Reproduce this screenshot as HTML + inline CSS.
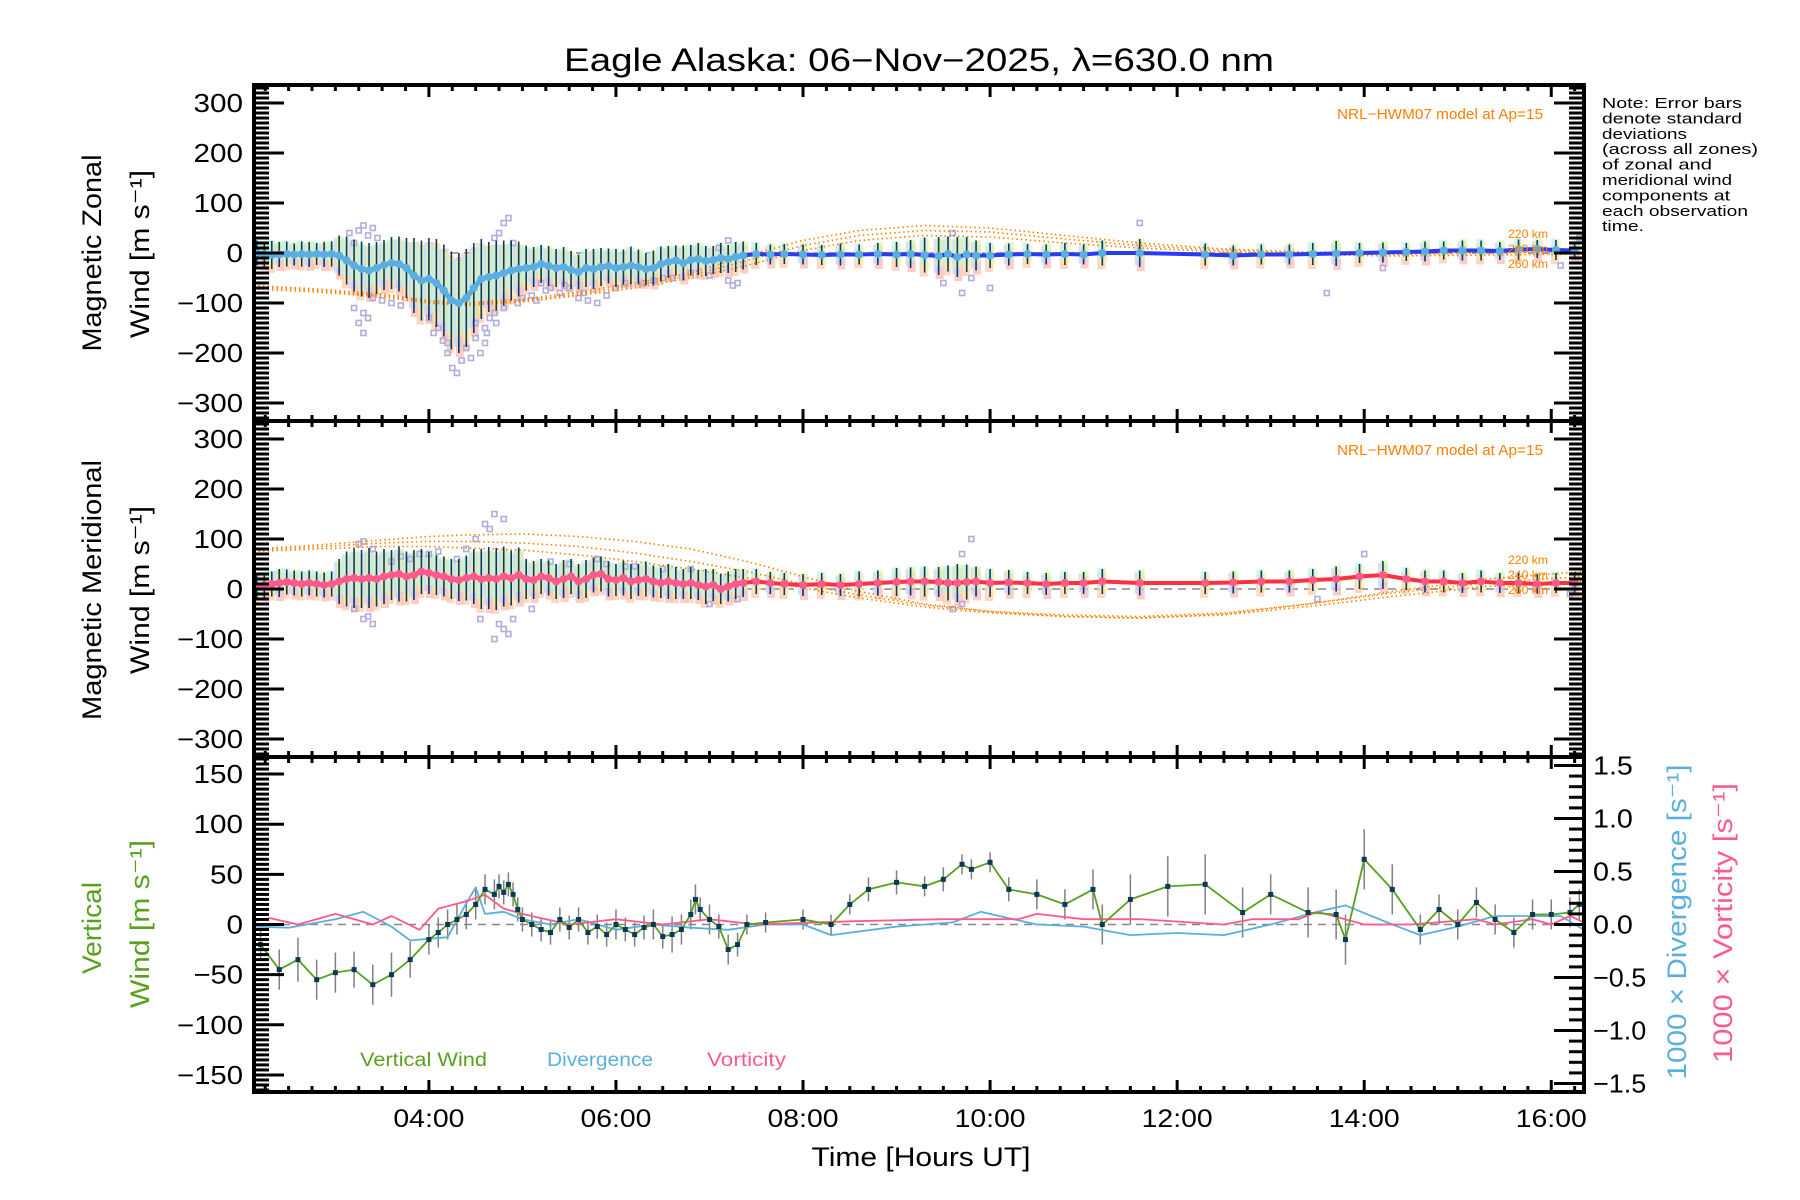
<!DOCTYPE html>
<html><head><meta charset="utf-8"><style>
html,body{margin:0;padding:0;background:#fff;}
svg{display:block;font-family:"Liberation Sans",sans-serif;}
</style></head><body>
<svg id="chart" width="1800" height="1200" viewBox="0 0 1800 1200" xmlns="http://www.w3.org/2000/svg">
<rect width="1800" height="1200" fill="#fff"/>
<g id="layer"></g>
</svg>
<script>
// ---------- data ----------
const denseTimes=[2.16,2.24,2.32,2.40,2.48,2.56,2.64,2.72,2.80,2.88,2.96,3.04,3.12,3.20,3.28,3.36,3.44,3.52,3.60,3.68,3.76,3.84,3.92,4.00,4.08,4.16,4.24,4.32,4.40,4.48,4.56,4.64,4.72,4.80,4.88,4.96,5.04,5.12,5.20,5.28,5.36,5.44,5.52,5.60,5.68,5.76,5.84,5.92,6.00,6.08,6.16,6.24,6.32,6.40,6.48,6.56,6.64,6.72,6.80,6.88,6.96,7.04,7.12,7.20,7.28,7.36];
const zonalDense=[0,-2,-4,-3,-2,-3,-2,-3,-2,-3,-2,-5,-15,-25,-32,-35,-30,-24,-20,-22,-30,-45,-55,-52,-60,-75,-95,-100,-90,-70,-52,-48,-45,-40,-35,-32,-30,-28,-22,-26,-30,-28,-34,-38,-30,-32,-28,-26,-30,-28,-25,-28,-32,-30,-22,-18,-15,-20,-14,-12,-16,-14,-10,-12,-8,-5];
const zonalDenseStd=[25,25,28,25,25,22,25,25,22,25,25,40,48,52,55,55,52,50,52,55,60,75,80,82,88,92,98,100,98,90,80,70,70,65,60,55,45,40,38,40,38,40,38,35,38,40,38,35,38,35,38,35,32,35,35,32,30,35,30,32,30,28,30,28,30,28];
const meridDense=[5,8,10,12,14,12,10,12,10,8,10,15,20,22,20,22,20,25,28,30,25,28,35,32,28,25,20,18,22,25,20,22,20,25,22,28,20,18,25,22,15,20,25,15,20,28,30,20,18,22,15,18,20,15,12,15,12,10,12,8,5,8,0,5,10,12];
const meridDenseStd=[25,25,25,28,25,25,25,25,25,25,25,45,55,60,58,60,55,55,50,55,50,50,45,42,40,40,40,42,45,55,60,62,62,60,55,55,40,38,35,35,35,38,35,35,38,35,35,35,32,35,35,32,35,32,30,35,32,30,32,30,35,32,30,30,30,28];
const sparseTimes=[7.5,7.65,7.8,8.0,8.2,8.4,8.6,8.8,9.0,9.15,9.3,9.45,9.55,9.65,9.75,9.85,10.0,10.2,10.4,10.6,10.8,11.0,11.2,11.6,12.3,12.6,12.9,13.2,13.45,13.7,13.95,14.2,14.45,14.65,14.85,15.05,15.25,15.45,15.65,15.85,16.05,16.25];
const zonalSparse=[-2,-3,-2,-3,-4,-3,-3,-2,-3,-2,-4,-6,-2,-8,-3,-5,-5,-3,-2,-3,-2,-3,0,0,-3,-5,-3,-3,-2,-1,0,1,2,3,5,5,5,4,7,8,6,5];
const zonalSparseStd=[22,20,20,20,20,22,20,22,25,28,35,38,35,40,35,30,25,22,20,20,22,20,25,28,22,20,20,20,22,25,20,20,18,20,18,20,20,18,20,18,20,18];
const meridSparse=[15,12,10,8,10,8,10,12,14,15,15,14,12,12,14,15,12,13,12,10,12,12,15,12,12,13,15,15,18,20,25,28,20,15,15,12,15,12,12,10,12,12];
const meridSparseStd=[25,22,22,22,22,22,25,25,28,28,30,30,35,38,35,30,28,25,22,22,22,22,25,25,22,22,22,22,22,25,25,28,22,22,22,20,22,20,20,20,20,22];
const zonalScatterT=[3.15,3.2,3.25,3.3,3.35,3.4,3.45,3.2,3.3,3.35,3.25,3.4,3.3,4.2,4.25,4.3,4.35,4.2,4.4,4.5,4.6,4.65,4.7,4.55,4.6,4.8,4.75,4.8,4.85,4.7,4.9,5.2,5.4,5.6,5.8,5.5,6.1,6.4,6.8,7.2,7.3,7.1,7.2,9.5,9.7,9.8,9.6,10.0,11.6,13.6,14.2,16.1,16.3,4.1,4.45,5.0,5.3,5.9,6.6,7.0,3.5,3.6,3.7,4.0,4.05,4.15,4.5,4.62,4.72,4.95,5.1,5.15,5.25,5.45,5.65,5.7,6.0,6.3,6.5,7.25];
const zonalScatterV=[40,20,45,55,35,50,30,-110,-120,-130,-140,-90,-160,-200,-230,-240,-215,-180,-190,-170,-150,-130,-120,-200,-180,-110,40,60,70,30,20,-60,-80,-90,-100,-70,-60,-55,-40,-55,-60,10,25,-60,-80,-50,40,-70,60,-80,-30,-25,30,-150,-210,-90,-70,-85,-50,-45,-95,-100,-105,-130,-160,-175,-140,-160,-140,-100,-85,-95,-75,-65,-80,-95,-70,-60,-50,-65];
const meridScatterT=[3.2,3.3,3.4,3.35,3.25,3.4,3.3,4.6,4.7,4.8,4.65,4.8,4.7,4.85,4.9,4.75,3.8,4.0,5.5,5.8,6.2,6.5,7.0,7.3,9.6,9.7,9.8,9.7,14.0,13.5,16.2,4.5,4.55,3.6,5.1,3.7,3.9,4.1,4.3,4.4,5.3,5.9,6.1,6.8];
const meridScatterV=[-40,-60,-70,-55,90,80,95,130,150,140,120,-80,-100,-90,-60,-70,60,70,50,60,45,40,-30,-20,-40,-30,100,70,70,-20,-10,100,-60,55,-40,65,70,75,60,80,55,50,45,40];
const model220Z=[-65,-72,-82,-95,-100,-92,-78,-60,-40,-5,25,45,55,50,35,20,8,2,0,2,8];
const model240Z=[-68,-75,-85,-98,-103,-95,-82,-65,-45,-15,15,35,45,42,28,15,5,0,-3,0,3];
const model260Z=[-72,-78,-88,-100,-105,-98,-85,-70,-50,-25,5,25,35,32,20,10,2,-3,-6,-4,-2];
const modelT=[2.13,2.8,3.5,4.0,4.4,5.0,5.6,6.2,6.8,7.4,8.0,8.6,9.3,10.0,10.8,11.6,12.5,13.4,14.3,15.3,16.35];
const model220M=[80,88,98,105,108,110,105,95,80,55,25,-5,-30,-45,-55,-58,-50,-30,-5,20,35];
const model240M=[78,84,92,95,95,92,85,72,55,35,10,-12,-32,-45,-52,-55,-48,-30,-8,12,25];
const model260M=[75,80,85,85,82,78,68,55,40,22,2,-18,-36,-48,-55,-58,-52,-35,-15,5,15];
const vertT=[2.2,2.4,2.6,2.8,3.0,3.2,3.4,3.6,3.8,4.0,4.1,4.2,4.3,4.4,4.5,4.6,4.7,4.75,4.8,4.85,4.9,4.95,5.0,5.1,5.2,5.3,5.4,5.5,5.6,5.7,5.8,5.9,6.0,6.1,6.2,6.3,6.4,6.5,6.6,6.7,6.8,6.85,6.9,7.0,7.1,7.2,7.3,7.4,7.6,8.0,8.3,8.5,8.7,9.0,9.3,9.5,9.7,9.8,10.0,10.2,10.5,10.8,11.1,11.2,11.5,11.9,12.3,12.7,13.0,13.4,13.7,13.8,14.0,14.3,14.6,14.8,15.0,15.2,15.4,15.6,15.8,16.0,16.2,16.3];
const vertV=[-20,-45,-35,-55,-48,-45,-60,-50,-35,-15,-8,0,5,10,20,35,30,38,32,40,30,15,5,0,-5,-8,5,-3,5,-8,-2,-10,0,-5,-10,-3,0,-12,-10,-5,10,25,15,5,-2,-25,-20,0,2,5,0,20,35,42,38,45,60,55,62,35,30,20,35,0,25,38,40,12,30,12,10,-15,65,35,-5,15,0,22,5,-8,10,10,12,20];
const vertStd=[15,20,22,20,20,18,20,22,18,15,15,15,15,15,15,15,15,12,12,12,12,12,12,12,12,12,12,12,12,12,12,12,15,12,12,12,15,12,18,15,15,15,12,15,12,15,12,10,10,10,10,10,12,12,10,12,10,10,10,12,15,15,20,20,25,30,30,25,20,25,25,25,30,25,15,15,15,15,15,15,15,15,15,15];
const divT=[2.13,2.5,3.0,3.3,3.6,3.8,4.2,4.4,4.5,4.6,4.8,5.0,5.3,5.6,6.0,6.4,6.8,7.2,7.6,8.0,8.3,9.0,9.6,9.9,10.5,11.0,11.5,12.0,12.5,13.0,13.5,13.8,14.3,14.6,15.0,15.4,15.8,16.1,16.35];
const divV=[-0.02,-0.03,0.05,0.12,-0.02,-0.15,-0.12,0.2,0.35,0.1,0.12,0.05,0.0,0.05,-0.05,0.0,-0.03,-0.05,0.0,0.0,-0.1,-0.02,0.02,0.12,0.0,-0.02,-0.1,-0.08,-0.1,0.0,0.12,0.18,0.0,-0.1,-0.02,0.08,0.08,0.08,-0.05];
const vortT=[2.13,2.3,2.6,3.0,3.4,3.6,3.9,4.1,4.4,4.6,4.8,5.0,5.5,6.0,6.5,7.0,7.5,8.5,9.5,10.3,10.5,11.0,11.6,12.5,12.8,13.3,13.5,14.0,14.5,15.2,15.4,15.8,16.0,16.2,16.35];
const vortV=[0.03,0.06,0.0,0.1,0.0,0.08,-0.05,0.15,0.22,0.28,0.15,0.1,0.0,0.05,0.0,0.05,0.0,0.03,0.05,0.05,0.1,0.05,0.05,0.0,0.05,0.05,0.12,0.0,0.0,0.05,0.0,0.05,0.0,0.08,0.02];
const xTickLabels=["04:00","06:00","08:00","10:00","12:00","14:00","16:00"];
const xTickHours=[4,6,8,10,12,14,16];
const windTickLabels=["300","200","100","0","\u2212100","\u2212200","\u2212300"];
const windTickVals=[300,200,100,0,-100,-200,-300];
const vertTickLabels=["150","100","50","0","\u221250","\u2212100","\u2212150"];
const vertTickVals=[150,100,50,0,-50,-100,-150];
const rightTickLabels=["1.5","1.0","0.5","0.0","\u22120.5","\u22121.0","\u22121.5"];
const rightTickVals=[1.5,1.0,0.5,0,-0.5,-1.0,-1.5];

// ---------- layout ----------
const NS="http://www.w3.org/2000/svg";
const L=254,R=1584,X0=2.13,X1=16.35;
const P=[{top:85,bot:421,lim:336},{top:421,bot:757,lim:336},{top:757,bot:1092,lim:167}];
const RLIM=1.58;
const layer=document.getElementById('layer');
function x(h){return L+(h-X0)/(X1-X0)*(R-L);}
function yP(i,v){const p=P[i];const m=(p.top+p.bot)/2;return m-v/p.lim*(p.bot-p.top)/2;}
function yR(v){const p=P[2];const m=(p.top+p.bot)/2;return m-v/RLIM*(p.bot-p.top)/2;}
function el(tag,parent){const e=document.createElementNS(NS,tag);(parent||layer).appendChild(e);return e;}
function set(e,k,v){e.setAttribute(k,v);return e;}
function line(g,x1,y1,x2,y2,c,w,dash){const e=el('line',g);set(e,'x1',x1);set(e,'y1',y1);set(e,'x2',x2);set(e,'y2',y2);set(e,'stroke',c);set(e,'stroke-width',w);if(dash)set(e,'stroke-dasharray',dash);return e;}
function text(g,s,tx,ty,size,color,anchor,len,rot){const e=el('text',g);e.textContent=s;set(e,'x',tx);set(e,'y',ty);set(e,'font-size',size);set(e,'fill',color);set(e,'text-anchor',anchor||'start');if(len){set(e,'textLength',len);set(e,'lengthAdjust','spacingAndGlyphs');}if(rot)set(e,'transform','rotate(-90 '+tx+' '+ty+')');return e;}
function poly(g,ts,vs,yf,c,w,dash){const e=el('polyline',g);set(e,'points',ts.map((t,i)=>x(t).toFixed(1)+','+yf(vs[i]).toFixed(1)).join(' '));set(e,'fill','none');set(e,'stroke',c);set(e,'stroke-width',w);if(dash)set(e,'stroke-dasharray',dash);set(e,'stroke-linejoin','round');return e;}

// title
let t=text(layer,"Eagle Alaska: 06\u2212Nov\u22122025, \u03bb=630.0 nm",919,71,32,'#000','middle',710);



const pastel=['#ffc8a8','#fff0a8','#c0f4e8','#ffb8b0','#c8d0ff','#d8f8b0'];
const lavender='#b4acdc';

// wind panels
function windPanel(i,name,dT,dV,dS,sT,sV,sS,scT,scV,mainCol,dotCol,models){
  const g=el('g');
  
  
  const p=P[i];
  const clip=el('clipPath',g);set(clip,'id','clip'+i);
  const cr=el('rect',clip);set(cr,'x',L);set(cr,'y',p.top);set(cr,'width',R-L);set(cr,'height',p.bot-p.top);
  const inner=el('g',g);set(inner,'clip-path','url(#clip'+i+')');
  const z=line(inner,L,yP(i,0),R,yP(i,0),'#888',1.5,'8,6');
  
  
  const allT=dT.concat(sT),allV=dV.concat(sV),allS=dS.concat(sS);
  allT.forEach((tt,k)=>{
    for(let j=0;j<3;j++){
      const r=el('rect',inner);
      
      
      const off=(j-1)*8, a=allS[k]*(1-j*0.12);
      set(r,'x',x(tt)-4+((k+j)%2?1:-1));set(r,'y',yP(i,allV[k]+a+off));set(r,'width',8);set(r,'height',Math.max(2,yP(i,allV[k]-a+off)-yP(i,allV[k]+a+off)));
      set(r,'fill',pastel[(k*3+j)%pastel.length]);set(r,'opacity',0.7);
    }
  });
  scT.forEach((tt,k)=>{
    const r=el('rect',inner);
    
    
    set(r,'x',x(tt)-2.5);set(r,'y',yP(i,scV[k])-2.5);set(r,'width',5);set(r,'height',5);set(r,'fill','none');set(r,'stroke',lavender);set(r,'stroke-width',1.6);
  });
  const kmLab=['220 km','240 km','260 km'];
  models.forEach((m,k)=>{
    const e=poly(inner,modelT,m,v=>yP(i,v),'#ff8000',1.6,'1.5,3');
    
    
  });
  allT.forEach((tt,k)=>{
    const e=line(inner,x(tt),yP(i,allV[k]+allS[k]),x(tt),yP(i,allV[k]-allS[k]),'#0c3a55',1.6);
    
    
  });
  const ml=poly(inner,allT,allV,v=>yP(i,v),mainCol,4);
  
  
  const dl=poly(inner,dT,dV,v=>yP(i,v),dotCol,5);
  
  
  allT.forEach((tt,k)=>{
    const c=el('circle',inner);
    
    
    set(c,'cx',x(tt));set(c,'cy',yP(i,allV[k]));set(c,'r',4);set(c,'fill',dotCol);
  });
  const nrl=text(g,'NRL\u2212HWM07 model at Ap=15',1543,p.top+34,15,'#ff8000','end',206);
  
  
  kmLab.forEach((s,k)=>{
    const e=text(g,s,1548,p.top+[153,168,183][k]-(i==1?10:0),12,'#ff8000','end',40);
    
    
  });
  return g;
}
windPanel(0,'zonal-panel',denseTimes,zonalDense,zonalDenseStd,sparseTimes,zonalSparse,zonalSparseStd,zonalScatterT,zonalScatterV,'#2a3cf0','#5aaee0',[model220Z,model240Z,model260Z]);
windPanel(1,'meridional-panel',denseTimes,meridDense,meridDenseStd,sparseTimes,meridSparse,meridSparseStd,meridScatterT,meridScatterV,'#ff3040','#ff5a8a',[model220M,model240M,model260M]);

// vertical panel
(function(){
  const g=el('g');
  
  
  const z=line(g,L,yP(2,0),R,yP(2,0),'#888',1.5,'8,6');
  
  
  vertT.forEach((tt,k)=>{
    const e=line(g,x(tt),yP(2,vertV[k]+vertStd[k]),x(tt),yP(2,vertV[k]-vertStd[k]),'#808080',1.5);
    
    
  });
  const d=poly(g,divT,divV,yR,'#5ab0dc',1.8);
  
  
  const v=poly(g,vortT,vortV,yR,'#ff5a8c',1.8);
  
  
  const w=poly(g,vertT,vertV,u=>yP(2,u),'#5aa020',1.8);
  
  
  vertT.forEach((tt,k)=>{
    const r=el('rect',g);
    
    
    set(r,'x',x(tt)-2.5);set(r,'y',yP(2,vertV[k])-2.5);set(r,'width',5);set(r,'height',5);set(r,'fill','#0c3a55');
  });
  const l1=text(g,'Vertical Wind',360,1066,19,'#5aa020','start',127);
  
  
  const l2=text(g,'Divergence',547,1066,19,'#5ab0dc','start',106);
  
  
  const l3=text(g,'Vorticity',707,1066,19,'#ff5a8c','start',79);
  
  
})();

// axes
const ax=el('g');


P.forEach((p,i)=>{
  const fr=el('rect',ax);
  
  
  set(fr,'x',L);set(fr,'y',p.top);set(fr,'width',R-L);set(fr,'height',p.bot-p.top);set(fr,'fill','none');set(fr,'stroke','#000');set(fr,'stroke-width',4);
  for(let m=Math.ceil(X0*4);m<=X1*4;m++){
    const h=m/4, maj=(m%8===0);const len=maj?12:6;
    line(ax,x(h),p.bot,x(h),p.bot-len,'#000',3);
    line(ax,x(h),p.top,x(h),p.top+len,'#000',3);
  }
  const step=i<2?10:5, majStep=i<2?100:50;
  for(let v=-Math.floor(p.lim/step)*step;v<=p.lim;v+=step){
    const yy=yP(i,v);const maj=(v%majStep===0);const len=maj?30:15;
    line(ax,L,yy,L+len,yy,'#000',3);
    if(i<2) line(ax,R,yy,R-len,yy,'#000',3);
  }
  const labs=i<2?windTickLabels:vertTickLabels, vals=i<2?windTickVals:vertTickVals;
  labs.forEach((s,k)=>{
    const e=text(ax,s,243,yP(i,vals[k])+9,26,'#000','end',s.length*16.5);
    
    
  });
});
for(let k=-15;k<=15;k++){
  const v=k/10, yy=yR(v), maj=(k%5===0);
  line(ax,R,yy,R-(maj?30:15),yy,'#000',3);
}
rightTickLabels.forEach((s,k)=>{
  const e=text(ax,s,1593,yR(rightTickVals[k])+9,26,'#000','start',s.length*13.3);
  
  
});
xTickLabels.forEach((s,k)=>{
  const e=text(ax,s,x(xTickHours[k]),1127,25,'#000','middle',71);
  
  
});
let xt=text(ax,'Time [Hours UT]',921,1166,27,'#000','middle',219);


const yt=[["Magnetic Zonal",101,253,197,'#000'],["Wind [m s\u207b\u00b9]",149,254,168,'#000'],["Magnetic Meridional",101,590,260,'#000'],["Wind [m s\u207b\u00b9]",149,590,168,'#000'],["Vertical",101,928,92,'#5aa020'],["Wind [m s\u207b\u00b9]",149,924,168,'#5aa020'],["1000 \u00d7 Divergence [s\u207b\u00b9]",1686,922,315,'#5ab0dc'],["1000 \u00d7 Vorticity [s\u207b\u00b9]",1732,923,280,'#ff5a8c']];
yt.forEach(a=>{
  const e=text(ax,a[0],a[1],a[2],27,a[4],'middle',a[3],true);
  
  
});
const note=["Note: Error bars","denote standard","deviations","(across all zones)","of zonal and","meridional wind","components at","each observation","time."];
const noteW=[140,140,85,156,110,130,128,146,42];
note.forEach((s,k)=>{
  const e=text(layer,s,1602,108+k*15.4,15,'#000','start',noteW[k]);
  
  
});
</script>
</body></html>
